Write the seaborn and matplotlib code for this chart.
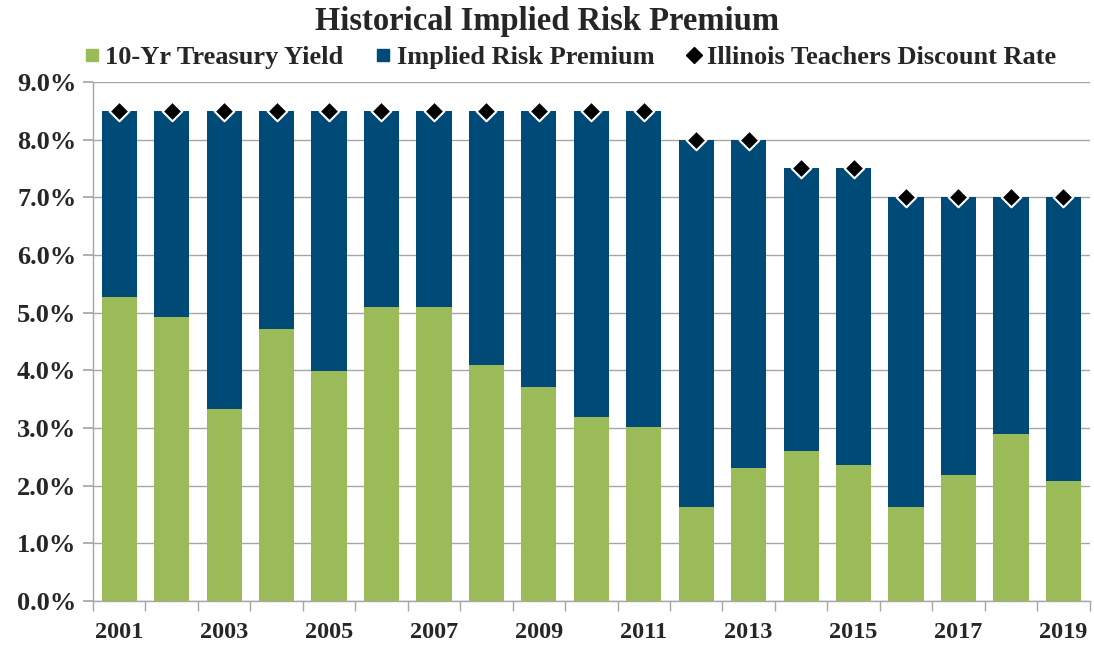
import matplotlib
matplotlib.use("Agg")
import matplotlib.pyplot as plt
from matplotlib.lines import Line2D
from matplotlib.ticker import FixedLocator
import seaborn as sns
import pandas as pd

# data (percent)
years = [str(y) for y in range(2001, 2020)]
treasury_yield = [5.27, 4.92, 3.33, 4.72, 3.99, 5.10, 5.10, 4.09, 3.71, 3.19,
                  3.01, 1.64, 2.30, 2.61, 2.36, 1.64, 2.18, 2.90, 2.08]
discount_rate = [8.5, 8.5, 8.5, 8.5, 8.5, 8.5, 8.5, 8.5, 8.5, 8.5,
                 8.5, 8.0, 8.0, 7.5, 7.5, 7.0, 7.0, 7.0, 7.0]

df = pd.DataFrame({'year': years, 'yield': treasury_yield, 'rate': discount_rate})
df['premium'] = df['rate'] - df['yield']

green = '#9BBB59'
blue = '#004A77'
grid_grey = '#A6A6A6'

sns.set_theme(style="white")
plt.rcParams['font.family'] = ['Liberation Serif', 'DejaVu Serif']
plt.rcParams['font.weight'] = 'bold'

fig = plt.figure(figsize=(10.94, 6.45), dpi=100)
ax = fig.add_axes([0.085, 0.068, 0.911, 0.805])

# stacked bars: full height (premium on top) first, then the yield over it
sns.barplot(data=df, x='year', y='rate', color=blue, width=0.67,
            saturation=1, linewidth=0, ax=ax, zorder=2)
sns.barplot(data=df, x='year', y='yield', color=green, width=0.67,
            saturation=1, linewidth=0, ax=ax, zorder=3)
sns.stripplot(data=df, x='year', y='rate', marker='D', size=10, color='black',
              edgecolor='white', linewidth=1.5, jitter=False, ax=ax, zorder=4)

ax.set_xlim(-0.5, len(years) - 0.5)
ax.set_ylim(0, 9)
ax.set_yticks(range(0, 10))
ax.set_yticklabels(['{:.1f}%'.format(t) for t in range(0, 10)])
ax.yaxis.grid(True, color=grid_grey, linewidth=1)
ax.set_axisbelow(True)

# labels on every other year, tick marks between the bars
ax.set_xticks(range(0, len(years), 2))
ax.set_xticklabels(years[::2])
ax.xaxis.set_minor_locator(FixedLocator([i - 0.5 for i in range(len(years) + 1)]))
ax.tick_params(axis='x', which='major', length=0, pad=15, labelsize=17.5)
ax.tick_params(axis='x', which='minor', length=7, color=grid_grey, direction='out', bottom=True)
ax.tick_params(axis='y', length=7, color=grid_grey, direction='out', left=True,
               pad=5, labelsize=19)

for side in ['top', 'right']:
    ax.spines[side].set_visible(False)
for side in ['left', 'bottom']:
    ax.spines[side].set_color(grid_grey)
    ax.spines[side].set_linewidth(1)

ax.set_xlabel('')
ax.set_ylabel('')

fig.suptitle('Historical Implied Risk Premium', fontsize=23.5, fontweight='bold', y=0.99)

handles = [
    Line2D([], [], marker='s', linestyle='none', color=green, markersize=9),
    Line2D([], [], marker='s', linestyle='none', color=blue, markersize=9),
    Line2D([], [], marker='D', linestyle='none', color='black', markersize=8),
]
labels = ['10-Yr Treasury Yield', 'Implied Risk Premium', 'Illinois Teachers Discount Rate']
fig.legend(handles, labels, loc='center', bbox_to_anchor=(0.52, 0.911), ncol=3,
           frameon=False, fontsize=19, handletextpad=0.1, columnspacing=1.1,
           handlelength=0.8)

fig.savefig('out.png', dpi=100)
